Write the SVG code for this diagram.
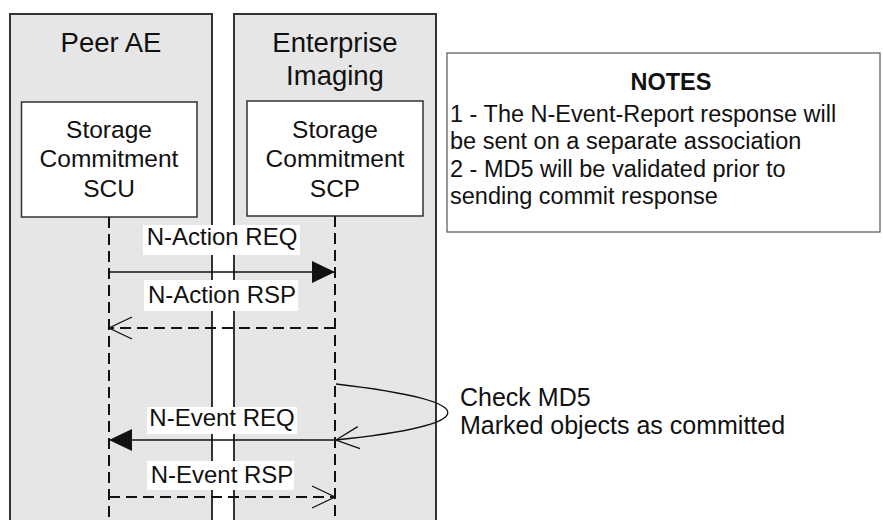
<svg xmlns="http://www.w3.org/2000/svg" width="883" height="520" viewBox="0 0 883 520">
<style>
.panel{fill:#e6e6e6;stroke:#333;stroke-width:2}
.box{fill:#fff;stroke:#333;stroke-width:1.5}
.note{fill:#fff;stroke:#555;stroke-width:1.2}
.t{font-family:"Liberation Sans",Arial,sans-serif;fill:#111}
.title{font-size:27.5px;text-anchor:middle}
.bt{font-size:24.5px;text-anchor:middle}
.ml{font-size:24px;text-anchor:middle}
.nt{font-size:23.5px}
.sn{font-size:25px}
.life{stroke:#111;stroke-width:2;stroke-dasharray:11 6;fill:none}
.msg{stroke:#111;stroke-width:1.3;fill:none}
.dmsg{stroke:#111;stroke-width:2;stroke-dasharray:11 6;fill:none}
.lbl{fill:#fff}
</style>
<defs>
<marker id="fillhead" markerUnits="userSpaceOnUse" viewBox="0 0 24 22" markerWidth="24" markerHeight="22" refX="23" refY="11" orient="auto"><path d="M0,0 L23,11 L0,22 Z" fill="#111"/></marker>
<marker id="openhead" markerUnits="userSpaceOnUse" viewBox="-1 -1 26 24" markerWidth="26" markerHeight="24" refX="23" refY="11" orient="auto"><path d="M0,0 L23,11 L0,22" fill="none" stroke="#111" stroke-width="1.3"/></marker>
</defs>
<rect width="883" height="520" fill="#fff"/>
<g id="peer-ae">
<rect class="panel" x="10" y="14" width="202" height="520"/>
<text class="t title" x="111" y="52">Peer AE</text>
</g>
<g id="enterprise-imaging">
<rect class="panel" x="234" y="14" width="202" height="520"/>
<text class="t title" x="335" y="52">Enterprise</text>
<text class="t title" x="335" y="85">Imaging</text>
</g>
<g id="scu">
<rect class="box" x="21.5" y="102" width="175.5" height="115"/>
<text class="t bt" x="109" y="138">Storage</text>
<text class="t bt" x="109" y="167">Commitment</text>
<text class="t bt" x="109" y="197">SCU</text>
</g>
<g id="scp">
<rect class="box" x="247" y="101" width="176" height="115"/>
<text class="t bt" x="335" y="138">Storage</text>
<text class="t bt" x="335" y="167">Commitment</text>
<text class="t bt" x="335" y="197">SCP</text>
</g>
<g id="notes">
<rect class="note" x="447" y="53" width="433" height="179"/>
<text class="t nt" x="671" y="90" text-anchor="middle" font-weight="bold">NOTES</text>
<text class="t nt" x="450" y="122">1 - The N-Event-Report response will</text>
<text class="t nt" x="450" y="149">be sent on a separate association</text>
<text class="t nt" x="450" y="177">2 - MD5 will be validated prior to</text>
<text class="t nt" x="450" y="204">sending commit response</text>
</g>
<g id="check-note">
<text class="t sn" x="460" y="406">Check MD5</text>
<text class="t sn" x="460" y="434">Marked objects as committed</text>
</g>
<g id="connectors">
<path class="life" d="M109,217 V520"/>
<path class="life" d="M335,216 V520"/>
<path class="msg" d="M109,272 H335" marker-end="url(#fillhead)"/>
<path class="dmsg" d="M335,328 H109" marker-end="url(#openhead)"/>
<path class="msg" d="M336,384 C490,402 480,425 336,440" marker-end="url(#openhead)"/>
<path class="msg" d="M336,440 H109" marker-end="url(#fillhead)"/>
<path class="dmsg" d="M109,497 H335" marker-end="url(#openhead)"/>
<rect class="lbl" x="143" y="225" width="157" height="30"/>
<text class="t ml" x="222" y="245">N-Action REQ</text>
<rect class="lbl" x="144" y="280" width="154" height="31"/>
<text class="t ml" x="222" y="303">N-Action RSP</text>
<rect class="lbl" x="147" y="407" width="150" height="27"/>
<text class="t ml" x="222" y="426">N-Event REQ</text>
<rect class="lbl" x="147" y="461" width="147" height="29"/>
<text class="t ml" x="222" y="483">N-Event RSP</text>
</g>
</svg>
